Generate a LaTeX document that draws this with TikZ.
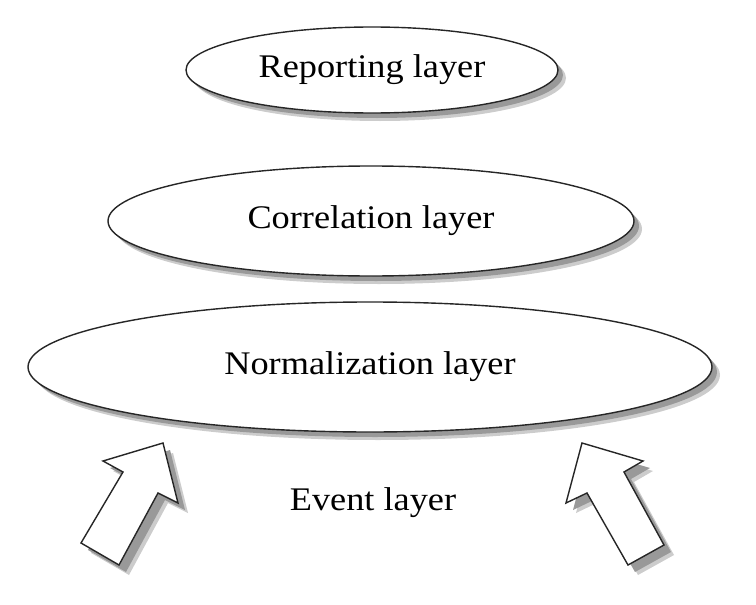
\documentclass[tikz,border=0pt]{standalone}
\usepackage{fontspec}
\setmainfont{Liberation Serif}
\usetikzlibrary{shapes.geometric}
\begin{document}
\begin{tikzpicture}[x=1pt,y=-1pt,
  layerbox/.style={ellipse, draw=black!85, line width=1.4pt, fill=white, inner sep=0pt,
    font=\fontsize{33}{40}\selectfont},
  shadowfill/.style={fill=black!40},
  softshadow/.style={fill=black!20},
  arrowshape/.style={draw=black!85, line width=1.4pt, fill=white, line join=miter},
  labeltext/.style={font=\fontsize{33}{40}\selectfont, inner sep=0pt}]
\path[use as bounding box] (0,0) rectangle (756,605);
% ellipse shadows
\fill[softshadow] (380,78) ellipse [x radius=186, y radius=43];
\fill[softshadow] (379,229) ellipse [x radius=263, y radius=55];
\fill[softshadow] (378,375) ellipse [x radius=342, y radius=65];
\fill[shadowfill] (377,75) ellipse [x radius=186, y radius=43];
\fill[shadowfill] (376,226) ellipse [x radius=263, y radius=55];
\fill[shadowfill] (375,372) ellipse [x radius=342, y radius=65];
% layers
\node[layerbox, minimum width=372pt, minimum height=86pt] (rep) at (372,70) {\scalebox{1.1}[1]{Reporting layer}};
\node[layerbox, minimum width=526pt, minimum height=110pt] (cor) at (371,221) {\scalebox{1.1}[1]{Correlation layer}};
\node[layerbox, minimum width=684pt, minimum height=130pt] (nor) at (370,367) {\scalebox{1.1}[1]{Normalization layer}};
% arrows: shadows
\fill[softshadow, shift={(10,10)}] (163,443) -- (103,461) -- (123,472) -- (81,543) -- (119,565) -- (158,493) -- (178,503) -- cycle;
\fill[softshadow, shift={(10,10)}] (582,443) -- (643,461) -- (624,472) -- (664,545) -- (628,565) -- (587,493) -- (566,503) -- cycle;
\fill[shadowfill, shift={(7,7)}] (163,443) -- (103,461) -- (123,472) -- (81,543) -- (119,565) -- (158,493) -- (178,503) -- cycle;
\fill[shadowfill, shift={(7,7)}] (582,443) -- (643,461) -- (624,472) -- (664,545) -- (628,565) -- (587,493) -- (566,503) -- cycle;
% arrows
\draw[arrowshape] (163,443) -- (103,461) -- (123,472) -- (81,543) -- (119,565) -- (158,493) -- (178,503) -- cycle;
\draw[arrowshape] (582,443) -- (643,461) -- (624,472) -- (664,545) -- (628,565) -- (587,493) -- (566,503) -- cycle;
% event layer label
\node[labeltext, anchor=base] (evt) at (373,510) {\scalebox{1.1}[1]{Event layer}};
\end{tikzpicture}
\end{document}
